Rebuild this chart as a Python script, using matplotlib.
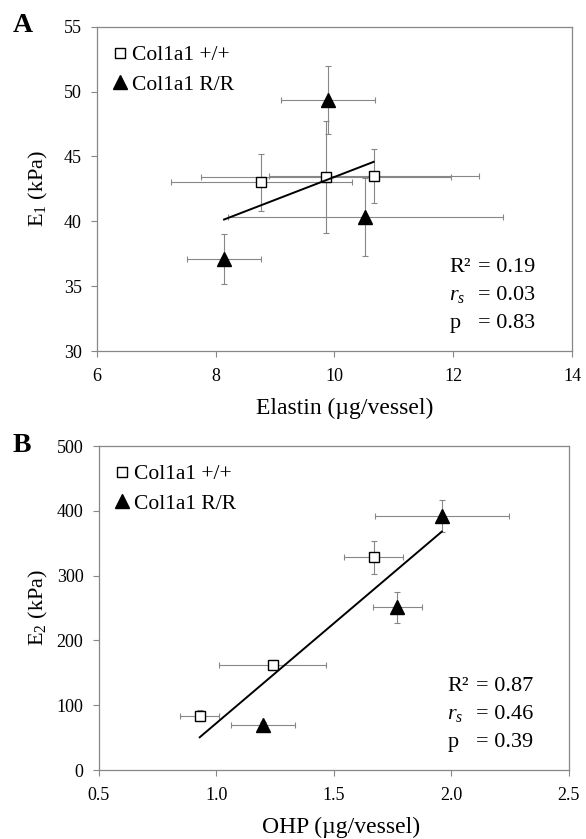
import numpy as np
import matplotlib
matplotlib.use("Agg")
import matplotlib.pyplot as plt

plt.rcParams['font.family'] = ['Liberation Serif', 'DejaVu Serif']
plt.rcParams['mathtext.fontset'] = 'custom'
plt.rcParams['mathtext.rm'] = 'Liberation Serif'
plt.rcParams['mathtext.it'] = 'Liberation Serif:italic'

# panel A: E1 vs elastin
elastin_wt = [8.77, 9.86, 10.66]
elastin_wt_err = [1.52, 2.10, 1.77]
e1_wt = [43.0, 43.4, 43.5]
e1_wt_err = [2.2, 4.3, 2.1]
elastin_rr = [8.14, 9.89, 10.52]
elastin_rr_err = [0.63, 0.79, 2.32]
e1_rr = [37.1, 49.35, 40.35]
e1_rr_err = [1.9, 2.6, 3.0]
stats_a = ["0.19", "0.03", "0.83"]

# panel B: E2 vs OHP
ohp_wt = [0.93, 1.24, 1.67]
ohp_wt_err = [0.082, 0.227, 0.124]
e2_wt = [84, 162, 328]
e2_wt_err = [8, 8, 26]
ohp_rr = [1.20, 1.77, 1.96]
ohp_rr_err = [0.137, 0.104, 0.285]
e2_rr = [69, 251, 392]
e2_rr_err = [5, 24, 25]
stats_b = ["0.87", "0.46", "0.39"]

gray = '#878787'


def draw_panel(ax, xw, xwe, yw, ywe, xr, xre, yr, yre, stats, xlim, ylim, xticks, yticks, xfmt):
    ax.errorbar(xw, yw, xerr=xwe, yerr=ywe, fmt='none', ecolor=gray, elinewidth=0.8, capsize=2.2, capthick=0.8, zorder=2)
    ax.errorbar(xr, yr, xerr=xre, yerr=yre, fmt='none', ecolor=gray, elinewidth=0.8, capsize=2.2, capthick=0.8, zorder=2)
    ax.plot(xw, yw, linestyle='none', marker='s', ms=7, mfc='white', mec='black', mew=1.0, zorder=3, label='Col1a1 +/+')
    ax.plot(xr, yr, linestyle='none', marker='^', ms=9.5, mfc='black', mec='black', zorder=3, label='Col1a1 R/R')
    # linear trendline over all points
    allx = np.array(xw + xr)
    ally = np.array(yw + yr)
    k, b = np.polyfit(allx, ally, 1)
    lx = np.array([allx.min(), allx.max()])
    ax.plot(lx, k * lx + b, color='black', lw=1.4, zorder=4)

    ax.set_xlim(xlim)
    ax.set_ylim(ylim)
    ax.set_xticks(xticks)
    ax.set_yticks(yticks)
    ax.set_xticklabels([xfmt % t for t in xticks])
    for s in ax.spines.values():
        s.set_color(gray)
        s.set_linewidth(0.9)
    ax.tick_params(direction='out', length=4, width=0.8, color=gray, labelsize=13)
    ax.tick_params(axis='x', pad=8)
    ax.tick_params(axis='y', pad=7)

    ax.legend(loc='upper left', bbox_to_anchor=(-0.006, 1.0), frameon=False, fontsize=15.5,
              handlelength=0.7, handletextpad=0.2, borderaxespad=0.55, labelspacing=0.44,
              borderpad=0.3)

    names = ['R\u00b2', '$r_s$', 'p']
    ys = [0.243, 0.156, 0.071]
    for n, v, y in zip(names, stats, ys):
        ax.text(0.742, y, n, transform=ax.transAxes, fontsize=16, va='baseline', ha='left')
        ax.text(0.802, y, '= ' + v, transform=ax.transAxes, fontsize=16, va='baseline', ha='left')


fig = plt.figure(figsize=(5.86, 8.39), dpi=100)
axA = fig.add_axes([0.1655, 0.5816, 0.8106, 0.3866])
axB = fig.add_axes([0.1684, 0.0822, 0.8020, 0.3862])

draw_panel(axA, elastin_wt, elastin_wt_err, e1_wt, e1_wt_err,
           elastin_rr, elastin_rr_err, e1_rr, e1_rr_err, stats_a,
           (6, 14), (30, 55), [6, 8, 10, 12, 14], [30, 35, 40, 45, 50, 55], '%d')
axA.set_xlabel('Elastin (\u00b5g/vessel)', fontsize=17)
axA.set_ylabel('E$_1$ (kPa)', fontsize=16)
axA.xaxis.set_label_coords(0.522, -0.145)
axA.yaxis.set_label_coords(-0.099, 0.5)

draw_panel(axB, ohp_wt, ohp_wt_err, e2_wt, e2_wt_err,
           ohp_rr, ohp_rr_err, e2_rr, e2_rr_err, stats_b,
           (0.5, 2.5), (0, 500), [0.5, 1.0, 1.5, 2.0, 2.5], [0, 100, 200, 300, 400, 500], '%.1f')
axB.set_xlabel('OHP (\u00b5g/vessel)', fontsize=17)
axB.set_ylabel('E$_2$ (kPa)', fontsize=16)
axB.xaxis.set_label_coords(0.515, -0.143)
axB.yaxis.set_label_coords(-0.104, 0.5)

fig.text(0.022, 0.962, 'A', fontsize=20, fontweight='bold', va='baseline')
fig.text(0.022, 0.4616, 'B', fontsize=20, fontweight='bold', va='baseline')

fig.savefig('out.png', dpi=100)
